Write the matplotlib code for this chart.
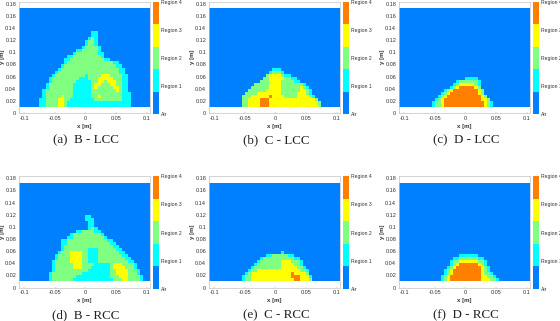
import matplotlib
matplotlib.use("Agg")
import matplotlib.pyplot as plt
import numpy as np
from matplotlib.colors import ListedColormap

# region maps: bottom row first, each row is (first column, cell values); the rest is air
b_lcc = [
    (7, "112222332111111111111111111111"),
    (7, "112222332111111111111111111111"),
    (7, "112222332211111111222222222111"),
    (8, "12222232221111112232222222111"),
    (8, "12222222221111112222222222111"),
    (8, "1222222222111111222222223211"),
    (9, "122222222111111232222233211"),
    (9, "122222222111111233222332211"),
    (10, "12222222211111223323332211"),
    (10, "12222222221112223333322211"),
    (11, "1222222222212222333222211"),
    (12, "12222222222222222222211"),
    (13, "1222222222222222222211"),
    (14, "12222222222222222211"),
    (15, "122222222222222211"),
    (15, "112222222222211"),
    (16, "112222222221"),
    (18, "1222222211"),
    (19, "11222221"),
    (21, "122221"),
    (22, "1221"),
    (22, "1221"),
    (23, "121"),
    (24, "11"),
    (24, "11"),
]
c_lcc = [
    (11, "22333344433333333333333332"),
    (11, "22333344433333333333333332"),
    (11, "2233334443333333333333332"),
    (11, "222333333433332222333321"),
    (12, "2222333333332222233321"),
    (13, "222222333332222223321"),
    (14, "2222223333222222321"),
    (15, "22222333322222221"),
    (17, "2223333222211"),
    (18, "22333332211"),
    (19, "23333211"),
    (20, "12221"),
    (21, "111"),
]
d_lcc = [
    (11, "12234444444444444321"),
    (11, "12234444444444444321"),
    (12, "123444444444444332"),
    (13, "1234444444444432"),
    (14, "12344444444432"),
    (15, "1234444444432"),
    (17, "1234444432"),
    (18, "123333321"),
    (19, "12222221"),
    (22, "1111"),
]
b_rcc = [
    (10, "1222222211111111111112223322221"),
    (10, "1222222221111111111122233322221"),
    (10, "122222222221111111112233332221"),
    (11, "12222222222211111112233332221"),
    (11, "1222222333222111111233332221"),
    (11, "1222222333222211111233322221"),
    (11, "122222333322111222222222211"),
    (12, "1222233332211122222222211"),
    (12, "122223333221112222222211"),
    (13, "1222333322111222222211"),
    (14, "12222222211122222211"),
    (14, "1222222222222222211"),
    (14, "112222222222222211"),
    (14, "11222222222222211"),
    (16, "1122222222221"),
    (17, "12222222221"),
    (19, "11222211"),
    (23, "121"),
    (23, "11"),
    (23, "11"),
    (22, "111"),
    (22, "11"),
]
c_rcc = [
    (11, "12233333333333333443332"),
    (11, "12233333333333334443331"),
    (12, "123333333333333433332"),
    (13, "12233333333333333221"),
    (14, "122222222233333221"),
    (15, "1222222223333221"),
    (16, "122222223332221"),
    (17, "1222222222211"),
    (19, "112222211"),
    (24, "1"),
]
d_rcc = [
    (14, "1234444444444333221"),
    (14, "123444444444433221"),
    (15, "1234444444443221"),
    (15, "123444444444321"),
    (16, "12344444444321"),
    (17, "123444444321"),
    (17, "122333333221"),
    (18, "1122222211"),
    (20, "111111"),
]

maps = [b_lcc, c_lcc, d_lcc, b_rcc, c_rcc, d_rcc]
captions = ["(a)  B - LCC", "(b)  C - LCC", "(c)  D - LCC",
            "(d)  B - RCC", "(e)  C - RCC", "(f)  D - RCC"]
labels = ["Air", "Region 1", "Region 2", "Region 3", "Region 4"]
colors = ["#0080ff", "#00ffff", "#80ff80", "#ffff00", "#ff8000"]
xticks = [-0.1, -0.05, 0, 0.05, 0.1]
yticks = [0, 0.02, 0.04, 0.06, 0.08, 0.1, 0.12, 0.14, 0.16, 0.18]

W, H = 560, 321
lefts = [19, 209, 399]
tops = [1.5, 176]
ax_w, ax_h = 131, 111.5

plt.rcParams["font.family"] = ["Liberation Sans", "DejaVu Sans"]
cmap = ListedColormap(colors)
xedges = -0.11 + 0.005 * np.arange(45)
yedges = np.append(0.01 + 0.005 * np.arange(33), 0.173)

fig = plt.figure(figsize=(W / 100, H / 100), dpi=100)

for n, rows in enumerate(maps):
    grid = np.zeros((33, 44))
    for r, (start, cells) in enumerate(rows):
        grid[r, start:start + len(cells)] = [int(c) for c in cells]

    l = lefts[n % 3]
    t = tops[n // 3]
    ax = fig.add_axes([l / W, 1 - (t + ax_h) / H, ax_w / W, ax_h / H])
    mesh = ax.pcolormesh(xedges, yedges, grid, cmap=cmap, vmin=0, vmax=4)
    ax.set_xlim(-0.1083, 0.1057)
    ax.set_ylim(0, 0.1838)
    ax.set_xticks(xticks)
    ax.set_xticklabels(["-0.1", "-0.05", "0", "0.05", "0.1"])
    ax.set_yticks(yticks)
    ax.set_yticklabels(["0", "0.02", "0.04", "0.06", "0.08", "0.1", "0.12", "0.14", "0.16", "0.18"])
    ax.tick_params(direction="in", length=1, width=0.3, color="#999999", pad=2,
                   labelsize=4.0, labelcolor="#333333")
    for s in ax.spines.values():
        s.set_linewidth(0.5)
        s.set_color("#c4c4c4")
    ax.set_xlabel("x [m]", fontsize=4.4, fontweight="bold", color="#333333", labelpad=2)
    ax.set_ylabel("y [m]", fontsize=4.4, fontweight="bold", color="#333333", labelpad=0.5)

    cax = fig.add_axes([(l + 134) / W, 1 - (t + 112.8) / H, 5.5 / W, 112.5 / H])
    cb = fig.colorbar(mesh, cax=cax, ticks=[0, 1, 2, 3, 4])
    cb.ax.set_yticklabels(labels)
    cb.ax.tick_params(length=0, pad=1.5, labelsize=3.7, labelcolor="#333333")
    cb.outline.set_visible(False)

    fig.text((l + 67) / W, 1 - (t + 139) / H, captions[n], ha="center", va="center",
             family="Liberation Serif", fontsize=9.4, color="#222222")

fig.savefig("out.png", dpi=100)
